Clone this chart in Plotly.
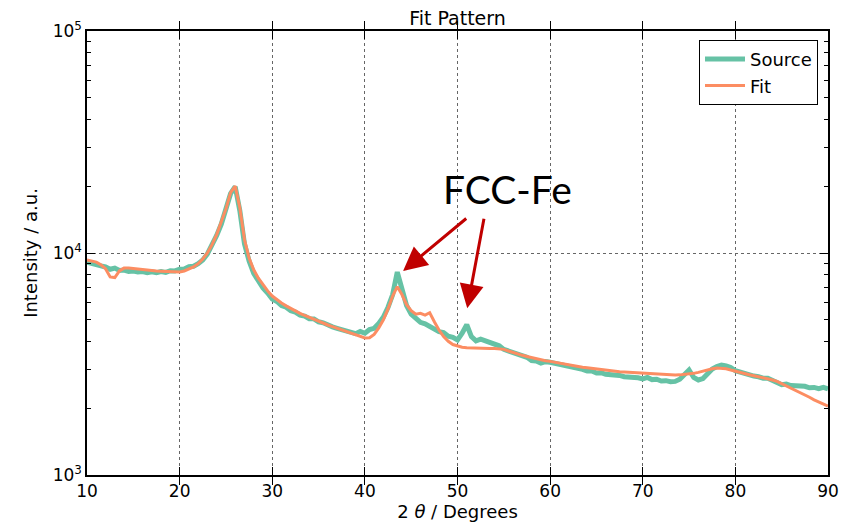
import plotly.graph_objects as go

# ---- data ----
source_x = [10 + 0.5 * i for i in range(161)]
source_y = [
    9100, 8950, 8850, 8750, 8650, 8450, 8550, 8350, 8380, 8250,   # 10-14.5
    8300, 8220, 8250, 8150, 8230, 8150, 8250, 8180, 8320, 8300,   # 15-19.5
    8450, 8480, 8680, 8720, 8950, 9300, 9900, 10800, 12000, 13500,  # 20-24.5
    15500, 18500, 19900, 15500, 11000, 9200, 8100, 7500, 6950, 6600,  # 25-29.5
    6200, 6050, 5800, 5700, 5500, 5420, 5250, 5200, 5060, 5050,   # 30-34.5
    4900, 4850, 4720, 4650, 4580, 4520, 4420, 4420, 4330, 4430,   # 35-39.5
    4350, 4520, 4580, 4820, 5150, 5700, 6500, 8200, 6900, 5800,   # 40-44.5
    5300, 5120, 4870, 4800, 4680, 4560, 4420, 4380, 4220, 4170,   # 45-49.5
    4060, 4350, 4750, 4200, 4020, 4090, 4030, 3970, 3880, 3820,   # 50-54.5
    3680, 3620, 3530, 3500, 3400, 3390, 3280, 3260, 3190, 3240,   # 55-59.5
    3220, 3190, 3130, 3130, 3080, 3060, 3010, 2990, 2940, 2940,   # 60-64.5
    2880, 2890, 2840, 2840, 2830, 2810, 2770, 2770, 2740, 2740,   # 65-69.5
    2710, 2750, 2690, 2700, 2650, 2660, 2630, 2640, 2700, 2850,   # 70-74.5
    2970, 2750, 2680, 2720, 2850, 3000, 3080, 3130, 3100, 3050,   # 75-79.5
    2950, 2910, 2840, 2830, 2790, 2770, 2730, 2730, 2650, 2610,   # 80-84.5
    2550, 2570, 2530, 2530, 2500, 2510, 2470, 2480, 2450, 2480,   # 85-89.5
    2440,                                                         # 90
]

fit_x = [10 + 0.5 * i for i in range(161)]
fit_y = [
    9300, 9200, 9100, 8850, 8500, 7800, 7750, 8300, 8550, 8550,   # 10-14.5
    8500, 8450, 8400, 8380, 8350, 8300, 8280, 8250, 8220, 8200,   # 15-19.5
    8220, 8300, 8450, 8650, 8950, 9400, 10000, 10900, 12100, 13700,  # 20-24.5
    15800, 18700, 20000, 16000, 11500, 9500, 8400, 7700, 7200, 6750,  # 25-29.5
    6400, 6150, 5950, 5780, 5620, 5480, 5350, 5230, 5120, 5020,   # 30-34.5
    4920, 4830, 4740, 4660, 4580, 4500, 4420, 4350, 4280, 4210,   # 35-39.5
    4140, 4150, 4300, 4600, 5000, 5600, 6400, 7050, 6500, 5850,   # 40-44.5
    5500, 5300, 5350, 5250, 5380, 4900, 4500, 4200, 4000, 3870,   # 45-49.5
    3800, 3760, 3740, 3730, 3720, 3720, 3715, 3710, 3710, 3700,   # 50-54.5
    3680, 3620, 3560, 3510, 3460, 3420, 3380, 3340, 3300, 3270,   # 55-59.5
    3250, 3220, 3190, 3160, 3140, 3110, 3090, 3060, 3040, 3020,   # 60-64.5
    3000, 2980, 2960, 2950, 2940, 2920, 2910, 2900, 2890, 2890,   # 65-69.5
    2880, 2870, 2860, 2850, 2840, 2830, 2825, 2820, 2825, 2835,   # 70-74.5
    2850, 2870, 2900, 2940, 2980, 3010, 3030, 3030, 3010, 2970,   # 75-79.5
    2930, 2900, 2860, 2830, 2800, 2770, 2740, 2720, 2680, 2640,   # 80-84.5
    2580, 2520, 2470, 2420, 2360, 2300, 2240, 2180, 2130, 2080,   # 85-89.5
    2040,                                                         # 90
]

x_ticks = [10, 20, 30, 40, 50, 60, 70, 80, 90]
y_major_ticks = [1000, 10000, 100000]
y_major_text = ["10<sup>3</sup>", "10<sup>4</sup>", "10<sup>5</sup>"]
y_minor_ticks = [2000, 3000, 4000, 5000, 6000, 7000, 8000, 9000,
                 20000, 30000, 40000, 50000, 60000, 70000, 80000, 90000]

label_text = "FCC-Fe"
arrow_tips = [(44.12, 3.919), (51.05, 3.751)]   # (x, log10 y)
arrow_tails_px = [(64.7, -53.7), (17.0, -91.0)]

SRC_COLOR = "#66c2a5"
FIT_COLOR = "#fc8d62"
FONT = "DejaVu Sans"

fig = go.Figure()
fig.add_trace(go.Scatter(x=source_x, y=source_y, mode="lines", name="Source",
                         line=dict(color=SRC_COLOR, width=5)))
fig.add_trace(go.Scatter(x=fit_x, y=fit_y, mode="lines", name="Fit",
                         line=dict(color=FIT_COLOR, width=3)))
# invisible helper traces so the minor-tick axes are drawn
for ax_name in ("y2", "y3"):
    fig.add_trace(go.Scatter(x=source_x[:1], y=source_y[:1], yaxis=ax_name,
                             mode="markers", marker=dict(opacity=0),
                             showlegend=False, hoverinfo="skip"))

axis_common = dict(
    showline=True, linecolor="black", linewidth=1.5, mirror="allticks",
    ticks="inside", tickcolor="black", ticklen=8, tickwidth=1,
    showgrid=True, gridcolor="#666666", griddash="dot", gridwidth=0.8,
    zeroline=False, automargin=False,
    tickfont=dict(family=FONT, size=17, color="black"),
)

fig.update_xaxes(range=[10, 90], tickvals=x_ticks,
                 title=dict(text="2 <i>θ</i> / Degrees",
                            font=dict(family=FONT, size=18, color="black"),
                            standoff=4),
                 **axis_common)
fig.update_yaxes(type="log", range=[3, 5], tickvals=y_major_ticks, ticktext=y_major_text,
                 title=dict(text="Intensity / a.u.",
                            font=dict(family=FONT, size=18, color="black"),
                            standoff=10),
                 **axis_common)

minor_axis = dict(type="log", range=[3, 5], overlaying="y", tickvals=y_minor_ticks,
                  ticks="inside", ticklen=4, tickcolor="black", tickwidth=1,
                  showticklabels=False, showgrid=False, zeroline=False,
                  showline=False, automargin=False)
fig.update_layout(yaxis2=dict(side="left", **minor_axis),
                  yaxis3=dict(side="right", **minor_axis))

for (tx, ty), (ax, ay) in zip(arrow_tips, arrow_tails_px):
    fig.add_annotation(x=tx, y=ty, xref="x", yref="y", ax=ax, ay=ay,
                       axref="pixel", ayref="pixel", text="", showarrow=True,
                       arrowhead=2, arrowsize=1.6, arrowwidth=3,
                       arrowcolor="#c00000", standoff=0)

fig.add_annotation(x=0.568, y=0.644, xref="paper", yref="paper", text=label_text,
                   showarrow=False, font=dict(family="Lato", size=39, color="black"),
                   xanchor="center", yanchor="middle")

fig.update_layout(
    width=850, height=525,
    margin=dict(l=87, r=22, t=31, b=50),
    paper_bgcolor="white", plot_bgcolor="white",
    title=dict(text="Fit Pattern", x=0.5, xref="paper", y=1 - 18 / 525,
               yref="container", yanchor="middle",
               font=dict(family=FONT, size=19, color="black")),
    legend=dict(x=0.9865, y=0.98, xanchor="right", yanchor="top",
                bordercolor="black", borderwidth=1, bgcolor="white",
                font=dict(family=FONT, size=18, color="black"),
                itemwidth=40),
    showlegend=True,
)

fig.write_html("out.html")
